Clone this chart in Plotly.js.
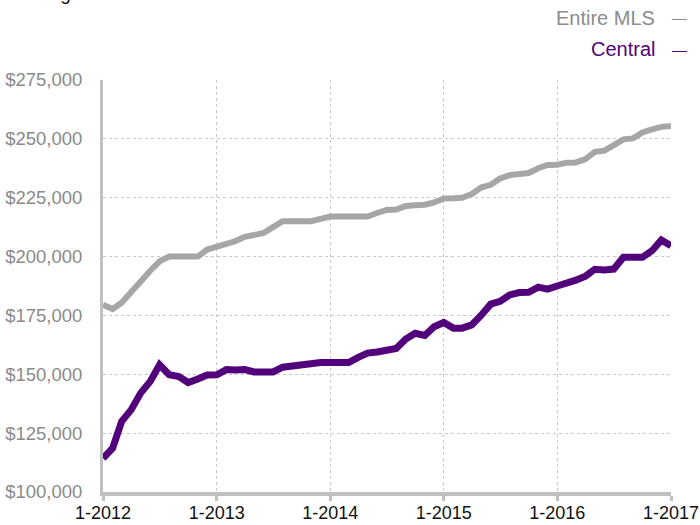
<!DOCTYPE html>
<html>
<head>
<meta charset="utf-8">
<script src="https://cdn.plot.ly/plotly-3.0.1.min.js"></script>
<style>
  html, body { margin: 0; padding: 0; background: #fff; }
  #chart { width: 700px; height: 525px; }
</style>
</head>
<body>
<div id="chart"></div>
<script>
// Monthly values, Jan 2012 .. Jan 2017
const entireMLS = [179500,177700,180400,185000,190000,194000,198000,200000,200000,200000,200000,203000,
  204000,205000,206500,208400,209000,210000,212500,215000,215000,215000,215000,216000,
  217000,217000,217000,217000,217000,218500,219800,220000,221500,221800,222000,223000,
  224700,224800,225000,226500,229300,230500,233200,234600,235000,235500,237500,238900,
  239000,239900,240000,241400,244500,245000,247300,249800,250200,252700,254000,255100,
  255500];
const central = [114300,118600,130000,135000,142000,147000,154000,149800,149000,146500,148000,149700,
  149800,152000,151800,152000,151000,151000,151000,153000,153500,154700,155000,155000,
  155000,155000,155000,157200,159000,159500,160000,161000,165000,167400,166500,170200,
  172000,169600,169600,171000,175000,179800,181000,183700,184700,184800,187000,186200,
  187500,188600,190000,191700,194600,194300,194700,199700,199700,199700,202500,207000,
  204600];
const tickDates = ['2012-01-01','2013-01-01','2014-01-01','2015-01-01','2016-01-01','2017-01-01'];
const tickLabels = ['1-2012','1-2013','1-2014','1-2015','1-2016','1-2017'];
const yTicks = [100000,125000,150000,175000,200000,225000,250000,275000];
const yTickLabels = ['$100,000','$125,000','$150,000','$175,000','$200,000','$225,000','$250,000','$275,000'];
const seriesNames = ['Entire MLS','Central'];

const months = [];
for (let i = 0; i < entireMLS.length; i++) {
  const y = 2012 + Math.floor(i / 12);
  const m = (i % 12) + 1;
  months.push(y + '-' + String(m).padStart(2, '0') + '-01');
}

const grey = '#a6a6a6';
const greyText = '#8c8c8c';
const purple = '#52037c';

const traces = [
  { x: months, y: entireMLS, type: 'scatter', mode: 'lines', name: seriesNames[0],
    line: { color: grey, width: 6 } },
  { x: months, y: central, type: 'scatter', mode: 'lines', name: seriesNames[1],
    line: { color: purple, width: 7 } }
];

const font = 'Liberation Sans, Arial, Helvetica, sans-serif';

const layout = {
  width: 700, height: 525,
  margin: { l: 103, r: 29, t: 80, b: 33 },
  paper_bgcolor: '#fff', plot_bgcolor: '#fff',
  showlegend: false,
  font: { family: font },
  xaxis: {
    type: 'date',
    range: [tickDates[0], tickDates[tickDates.length - 1]],
    tickvals: tickDates, ticktext: tickLabels,
    tickfont: { size: 18, color: '#111', family: font },
    ticks: 'outside', ticklen: 5, tickwidth: 3, tickcolor: '#c0c0c0',
    ticklabelstandoff: -4,
    showline: true, linecolor: '#c0c0c0', linewidth: 4,
    showgrid: true, gridcolor: '#c8c8c8', gridwidth: 1, griddash: 'dot',
    zeroline: false, fixedrange: true
  },
  yaxis: {
    range: [100000, 275000],
    tickvals: yTicks, ticktext: yTickLabels,
    tickfont: { size: 18.5, color: '#8a8a8a', family: font },
    ticks: 'outside', ticklen: 14, tickcolor: 'rgba(0,0,0,0)',
    showline: true, linecolor: '#c0c0c0', linewidth: 3,
    showgrid: true, gridcolor: '#c8c8c8', gridwidth: 1, griddash: 'dot',
    zeroline: false, fixedrange: true
  },
  annotations: [
    { xref: 'paper', yref: 'paper', x: 0.9754, y: 1.1505, xanchor: 'right', yanchor: 'middle',
      text: seriesNames[0], showarrow: false,
      font: { size: 20, color: greyText, family: font } },
    { xref: 'paper', yref: 'paper', x: 1.0158, y: 1.1505, xanchor: 'center', yanchor: 'middle',
      text: '—', showarrow: false,
      font: { size: 15, color: greyText, family: font } },
    { xref: 'paper', yref: 'paper', x: 0.9754, y: 1.0752, xanchor: 'right', yanchor: 'middle',
      text: seriesNames[1], showarrow: false,
      font: { size: 20, color: purple, family: font } },
    { xref: 'paper', yref: 'paper', x: 1.0158, y: 1.0752, xanchor: 'center', yanchor: 'middle',
      text: '—', showarrow: false,
      font: { size: 15, color: purple, family: font } },
    { xref: 'paper', yref: 'paper', x: -0.165, y: 1.18, xanchor: 'left', yanchor: 'bottom',
      text: 'Average Median Sales Price', showarrow: false,
      font: { size: 19, color: '#111', family: font } }
  ]
};

Plotly.newPlot('chart', traces, layout, { staticPlot: true, displayModeBar: false });
</script>
</body>
</html>
